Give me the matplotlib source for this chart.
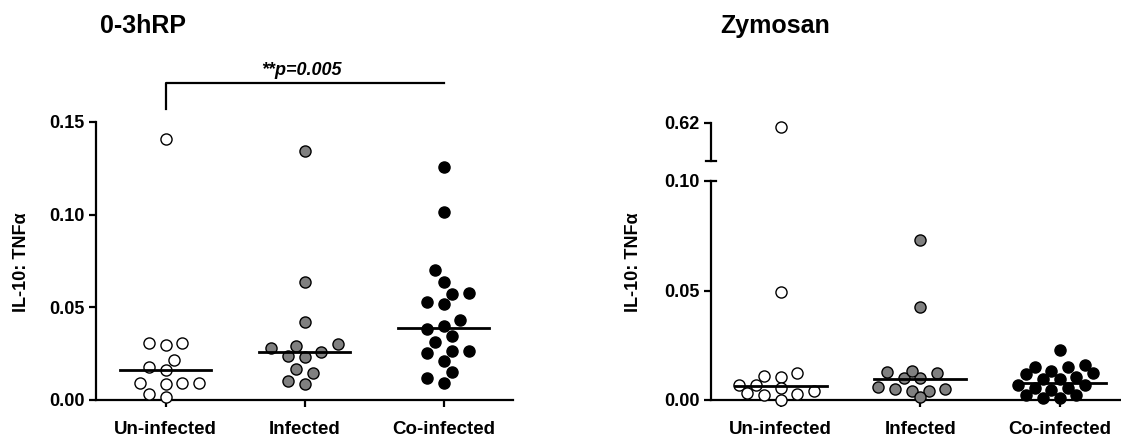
import numpy as np
import matplotlib.pyplot as plt

plt.rcParams['font.family'] = ['Liberation Sans', 'DejaVu Sans']
plt.rcParams['font.weight'] = 'bold'

groups = ["Un-infected", "Infected", "Co-infected"]
fills = ["white", "#808080", "black"]

# 0-3hRP, IL-10 : TNFa ratio
rp_uninf = [0.1407, 0.0309, 0.0296, 0.0306, 0.0216, 0.0180, 0.0162, 0.0090, 0.0086,
            0.0093, 0.0090, 0.0015, 0.0032]
rp_inf = [0.1342, 0.0636, 0.0419, 0.0279, 0.0302, 0.0293, 0.0239, 0.0230, 0.0257,
          0.0144, 0.0167, 0.0085, 0.0102]
rp_coinf = [0.1255, 0.1012, 0.0701, 0.0638, 0.0580, 0.0571, 0.0516, 0.0530, 0.0431,
            0.0381, 0.0400, 0.0345, 0.0314, 0.0264, 0.0252, 0.0264, 0.0212, 0.0153,
            0.0120, 0.0090]
rp_medians = [0.0160, 0.0259, 0.0390]

# Zymosan
zy_uninf = [0.617, 0.0492, 0.0110, 0.0107, 0.0122, 0.0068, 0.0056, 0.0068, 0.0041,
            0.0027, 0.0021, 0.0033, 0.0002]
zy_inf = [0.0731, 0.0423, 0.0126, 0.0102, 0.0099, 0.0122, 0.0132, 0.0050, 0.0043,
          0.0058, 0.0043, 0.0049, 0.0012]
zy_coinf = [0.0228, 0.0149, 0.0149, 0.0160, 0.0119, 0.0132, 0.0122, 0.0096, 0.0094,
            0.0103, 0.0068, 0.0056, 0.0053, 0.0068, 0.0046, 0.0023, 0.0008, 0.0011,
            0.0023]
zy_medians = [0.0065, 0.0096, 0.0076]

p_text = "**p=0.005"

W, H = 1121, 441
fig = plt.figure(figsize=(W / 100, H / 100), dpi=100)


def px_axes(x0, y_top, w, h):
    return fig.add_axes([x0 / W, 1 - (y_top + h) / H, w / W, h / H])


def swarm(values, px_x, px_y, step=0.06, diam=12.5):
    # simple greedy beeswarm on a half-step grid
    values = np.asarray(values, dtype=float)
    offs = np.zeros(len(values))
    placed = []
    cands = [0] + [s * n for n in range(1, 15) for s in (-1, 1)]
    for i in np.argsort(values):
        v = values[i]
        for c in cands:
            x = c * step
            if all(np.hypot((x - px) * px_x, (v - py) * px_y) >= diam for px, py in placed):
                break
        placed.append((x, v))
        offs[i] = x
    return offs


def style(ax, bottom=True):
    for s in ['top', 'right']:
        ax.spines[s].set_visible(False)
    ax.spines['left'].set_linewidth(1.6)
    ax.spines['bottom'].set_linewidth(1.6)
    ax.spines['bottom'].set_visible(bottom)
    ax.tick_params(axis='y', width=1.6, length=5, labelsize=13, pad=3)
    ax.tick_params(axis='x', width=1.6, length=5, labelsize=13.5, pad=10)
    ax.set_xlim(-0.5, 2.5)


def dots(ax, i, vals, offs, color):
    ax.scatter(i + offs, vals, s=64, facecolor=color, edgecolor='black',
               linewidth=1.0, zorder=3, clip_on=False)


# ---- left panel: 0-3hRP ----
ax1 = px_axes(96, 122, 417, 278)
style(ax1)
ax1.set_ylim(0, 0.15)
ax1.set_yticks([0, 0.05, 0.10, 0.15], ["0.00", "0.05", "0.10", "0.15"])
ax1.set_xticks([0, 1, 2], groups)
for i, vals in enumerate([rp_uninf, rp_inf, rp_coinf]):
    offs = swarm(vals, 139, 278 / 0.15)
    dots(ax1, i, vals, offs, fills[i])
    ax1.plot([i - 0.33, i + 0.33], [rp_medians[i]] * 2, color='black', lw=2, zorder=4)

ax1.plot([0, 0, 2], [0.157, 0.1708, 0.1708], color='black', lw=1.6, clip_on=False)
ax1.text(0.975, 0.1752, p_text, ha='center', va='baseline', fontsize=13,
         fontstyle='italic', fontweight='bold')

# ---- right panel: Zymosan (broken axis) ----
ax2 = px_axes(711, 181, 418.5, 219)
style(ax2)
ax2.set_ylim(0, 0.10)
ax2.set_yticks([0, 0.05, 0.10], ["0.00", "0.05", "0.10"])
ax2.set_xticks([0, 1, 2], groups)

ax3 = px_axes(711, 122.7, 418.5, 38.3)
style(ax3, bottom=False)
ax3.set_ylim(0.59, 0.62)
ax3.set_yticks([0.62], ["0.62"])
ax3.set_xticks([])

for i, vals in enumerate([zy_uninf, zy_inf, zy_coinf]):
    vals = np.asarray(vals)
    low = vals[vals <= 0.10]
    high = vals[vals > 0.10]
    offs = swarm(low, 139.5, 219 / 0.10, diam=10.5)
    dots(ax2, i, low, offs, fills[i])
    if len(high):
        dots(ax3, i, high, np.zeros(len(high)), fills[i])
    ax2.plot([i - 0.33, i + 0.33], [zy_medians[i]] * 2, color='black', lw=2, zorder=4)

# break caps
ax2.plot([-0.5, -0.465], [0.10, 0.10], color='black', lw=1.6, clip_on=False)
ax3.plot([-0.536, -0.464], [0.59, 0.59], color='black', lw=1.6, clip_on=False)

# titles and y labels
fig.text(100 / W, 1 - 26 / H, "0-3hRP", fontsize=18, ha='left', va='center')
fig.text(720 / W, 1 - 26 / H, "Zymosan", fontsize=18, ha='left', va='center')
fig.text(22 / W, 1 - 262 / H, "IL-10: TNF\u03b1", fontsize=13, rotation=90,
         ha='center', va='center')
fig.text(634 / W, 1 - 262 / H, "IL-10: TNF\u03b1", fontsize=13, rotation=90,
         ha='center', va='center')

fig.savefig("out.png", dpi=100)
